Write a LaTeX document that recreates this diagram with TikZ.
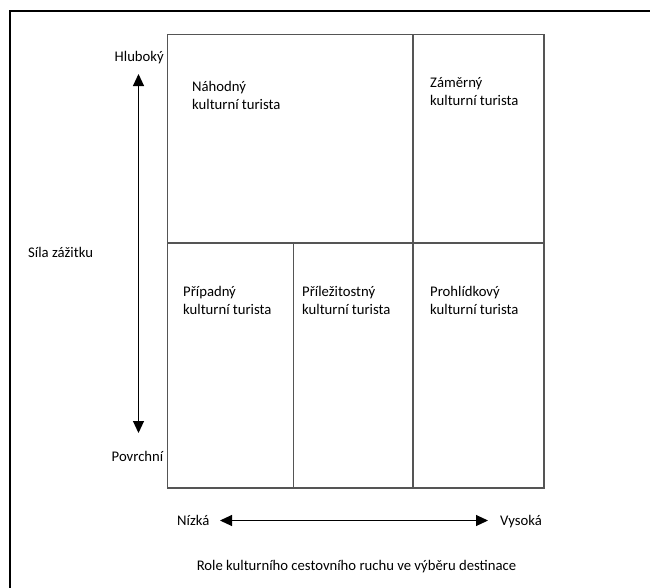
\documentclass[tikz,border=0pt]{standalone}
\usepackage{fontspec}
\setmainfont{Carlito}
\usetikzlibrary{arrows.meta}
\definecolor{gridc}{HTML}{555555}
\tikzset{
  cellline/.style={draw=gridc, line width=1.1pt},
  framel/.style={draw=black, line width=2.4pt},
  axis/.style={draw=black, line width=1pt, {Triangle[length=12pt,width=11pt]}-{Triangle[length=12pt,width=11pt]}},
  lbl/.style={inner sep=0pt, font=\fontsize{14.7}{17.5}\selectfont},
  celltext/.style={lbl, align=left, anchor=base west}
}
\begin{document}
\begin{tikzpicture}[x=1pt,y=-1pt]
\useasboundingbox (0,0) rectangle (650,587);
\fill[white] (0,0) rectangle (650,587);
% outer frame (only left and top edges visible)
\draw[framel] (10,590) -- (10,11) -- (653,11);
% grid
\coordinate (g1) at (167.5,34.5);
\coordinate (g2) at (544,488);
\draw[cellline] (g1) rectangle (g2);
\coordinate (hl) at (167.5,243);
\coordinate (hr) at (544,243);
\draw[cellline] (hl) -- (hr);
\coordinate (vt) at (413,34.5);
\coordinate (vb) at (413,488);
\draw[cellline] (vt) -- (vb);
\coordinate (wt) at (293.5,243);
\coordinate (wb) at (293.5,488);
\draw[cellline] (wt) -- (wb);
% cell texts (base = baseline of last line)
\node[celltext] (nahodny) at (192,109) {Náhodný\\kulturní turista};
\node[celltext] (zamerny) at (430,105) {Záměrný\\kulturní turista};
\node[celltext] (pripadny) at (183,314) {Případný\\kulturní turista};
\node[celltext] (prilez) at (302,314) {Příležitostný\\kulturní turista};
\node[celltext] (prohl) at (430,314) {Prohlídkový\\kulturní turista};
% vertical axis
\node[lbl, anchor=base east] (hluboky) at (164,61.5) {Hluboký};
\node[lbl, anchor=base east] (povrchni) at (163.5,461) {Povrchní};
\node[lbl, anchor=base west] (sila) at (28,257) {Síla zážitku};
\coordinate (vtop) at (138.5,74);
\coordinate (vbot) at (138.5,433);
\draw[axis] (vtop) -- (vbot);
% horizontal axis
\node[lbl, anchor=base west] (nizka) at (177,525) {Nízká};
\node[lbl, anchor=base west] (vysoka) at (500,525) {Vysoká};
\coordinate (hleft) at (220,520.5);
\coordinate (hright) at (488,520.5);
\draw[axis] (hleft) -- (hright);
% caption
\node[lbl, anchor=base] (caption) at (356.5,570) {Role kulturního cestovního ruchu ve výběru destinace};
\end{tikzpicture}
\end{document}
